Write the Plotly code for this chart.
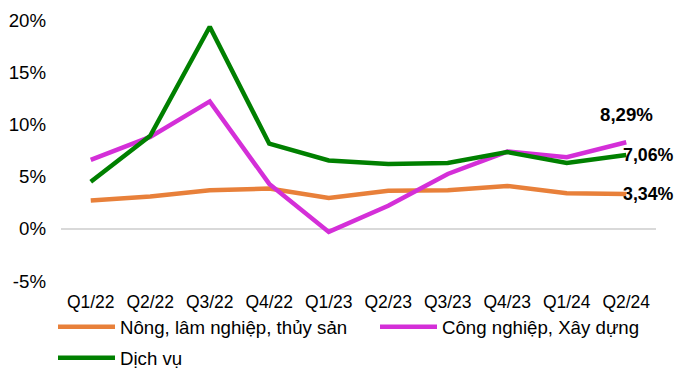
import plotly.graph_objects as go

quarters = ["Q1/22", "Q2/22", "Q3/22", "Q4/22", "Q1/23", "Q2/23", "Q3/23", "Q4/23", "Q1/24", "Q2/24"]
nong_lam = [2.7, 3.1, 3.7, 3.85, 2.95, 3.65, 3.7, 4.1, 3.4, 3.34]
cong_nghiep = [6.6, 8.8, 12.2, 4.3, -0.3, 2.2, 5.25, 7.4, 6.85, 8.29]
dich_vu = [4.5, 8.9, 19.35, 8.15, 6.55, 6.2, 6.3, 7.35, 6.3, 7.06]
y_ticks = [-5, 0, 5, 10, 15, 20]
y_ticktext = [f"{v}%" for v in y_ticks]

names = ["Nông, lâm nghiệp, thủy sản", "Công nghiệp, Xây dựng", "Dịch vụ"]
colors = ["#E8803A", "#D42FD8", "#008000"]
series = [nong_lam, cong_nghiep, dich_vu]
label_fmt = lambda v: f"{v:.2f}".replace(".", ",") + "%"

FONT = "Liberation Sans, Arial, sans-serif"
FS = 18.67

legend_keys = ["legend", "legend2", "legend3"]
# legend anchor positions in pixels (x of item start, y of row middle)
legend_pos = [(53, 327), (375, 327), (53, 358)]

fig = go.Figure()
for n, c, s, lk in zip(names, colors, series, legend_keys):
    fig.add_trace(go.Scatter(
        x=quarters, y=s, name=n, mode="lines",
        line=dict(color=c, width=4.5), legend=lk,
    ))

bold = dict(family=FONT, size=FS, color="black", weight="bold")
bold_end = dict(family=FONT, size=17.8, color="black", weight="bold")
fig.add_annotation(x=quarters[-1], y=cong_nghiep[-1], text=label_fmt(cong_nghiep[-1]),
                   showarrow=False, xanchor="center", yanchor="middle", yshift=28, font=bold)
fig.add_annotation(x=quarters[-1], y=dich_vu[-1], text=label_fmt(dich_vu[-1]),
                   showarrow=False, xanchor="left", yanchor="middle", xshift=-5, font=bold_end)
fig.add_annotation(x=quarters[-1], y=nong_lam[-1], text=label_fmt(nong_lam[-1]),
                   showarrow=False, xanchor="left", yanchor="middle", xshift=-5, font=bold_end)

fig.update_layout(
    width=674, height=368,
    margin=dict(l=61, r=18, t=20, b=87, autoexpand=False),
    plot_bgcolor="white", paper_bgcolor="white",
    font=dict(family=FONT, size=FS, color="black"),
    xaxis=dict(showgrid=False, showline=False, ticks="", tickfont=dict(size=17.5),
               range=[-0.5, 9.5], ticklabelstandoff=8),
    yaxis=dict(range=[-5, 20], tickvals=y_ticks, ticktext=y_ticktext, showgrid=False,
               zeroline=True, zerolinecolor="#D9D9D9", zerolinewidth=1.5,
               ticks="", tickfont=dict(size=FS), ticklabelstandoff=14),
    showlegend=True,
)
for lk, (px, py) in zip(legend_keys, legend_pos):
    fig.update_layout({lk: dict(
        orientation="h", x=px / 674, y=1 - py / 368, xref="container", yref="container",
        xanchor="left", yanchor="middle", font=dict(size=FS), itemwidth=57,
        bgcolor="rgba(0,0,0,0)")})

fig.write_html("out.html")
